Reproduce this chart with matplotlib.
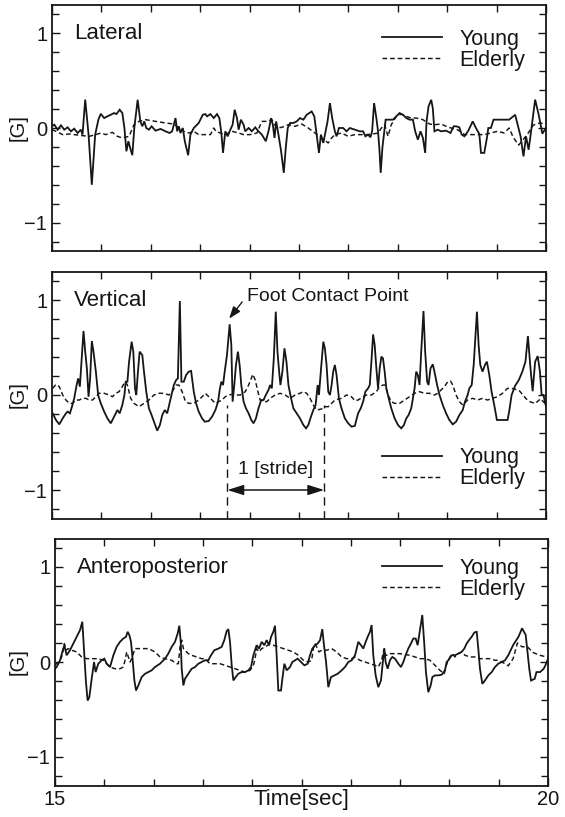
import numpy as np
import matplotlib
matplotlib.use("Agg")
import matplotlib.pyplot as plt

# ---------------- data (time [sec], acceleration [G]) ----------------
lat_young = [(15.000,0.02),(15.024,0.035),(15.057,-0.018),(15.091,0.028),(15.124,-0.018),(15.158,0.007),
    (15.192,-0.035),(15.225,-0.007),(15.259,-0.053),(15.292,-0.018),(15.309,-0.07),(15.336,0.30),(15.370,-0.07),
    (15.403,-0.60),(15.437,-0.07),(15.470,0.09),(15.494,0.15),(15.528,0.105),(15.561,0.123),(15.595,0.14),
    (15.628,0.158),(15.652,0.147),(15.685,0.193),(15.712,0.158),(15.733,0.0),(15.753,-0.246),(15.773,-0.14),
    (15.796,-0.228),(15.813,-0.288),(15.833,0.0),(15.867,0.298),(15.894,0.07),(15.914,0.018),(15.934,0.07),
    (15.954,0.0),(15.981,-0.018),(16.008,0.018),(16.048,-0.028),(16.099,-0.01),(16.149,-0.035),(16.190,-0.053),
    (16.216,-0.035),(16.250,0.105),(16.267,-0.035),(16.284,0.018),(16.300,-0.053),(16.324,0.0),(16.344,-0.14),
    (16.378,-0.288),(16.401,-0.07),(16.435,0.0),(16.485,0.053),(16.526,0.14),(16.552,0.147),(16.570,0.123),
    (16.603,0.147),(16.637,0.105),(16.670,0.147),(16.694,0.105),(16.714,-0.053),(16.731,-0.263),(16.754,-0.035),
    (16.778,-0.088),(16.805,-0.018),(16.828,0.035),(16.849,0.193),(16.872,0.105),(16.889,-0.018),(16.912,0.088),
    (16.939,0.035),(16.956,-0.035),(16.990,0.0),(17.023,-0.035),(17.057,0.007),(17.090,-0.035),(17.124,-0.07),
    (17.164,-0.14),(17.191,-0.035),(17.218,0.105),(17.235,0.035),(17.252,-0.105),(17.269,0.07),(17.292,-0.07),
    (17.319,-0.246),(17.346,-0.474),(17.366,-0.211),(17.386,0.0),(17.410,0.053),(17.443,0.053),(17.477,0.07),
    (17.510,0.105),(17.544,0.088),(17.578,0.14),(17.628,0.175),(17.655,0.123),(17.679,-0.07),(17.702,-0.263),
    (17.722,-0.07),(17.746,-0.158),(17.769,-0.035),(17.789,0.07),(17.813,0.263),(17.836,0.105),(17.863,-0.035),
    (17.880,-0.088),(17.904,0.0),(17.947,0.0),(17.981,-0.035),(18.015,0.0),(18.065,-0.018),(18.115,-0.035),
    (18.149,-0.035),(18.172,-0.088),(18.199,-0.07),(18.223,-0.098),(18.240,-0.035),(18.260,0.263),(18.283,0.105),
    (18.300,-0.035),(18.313,-0.211),(18.327,-0.474),(18.344,-0.211),(18.360,-0.07),(18.377,0.088),(18.418,0.088),
    (18.451,0.088),(18.485,0.123),(18.518,0.158),(18.552,0.14),(18.586,0.105),(18.619,0.088),(18.653,0.088),
    (18.676,-0.035),(18.703,-0.123),(18.730,-0.035),(18.754,-0.105),(18.777,-0.263),(18.791,0.07),(18.811,0.228),
    (18.838,0.298),(18.854,0.211),(18.871,-0.035),(18.905,-0.018),(18.938,-0.035),(18.989,-0.028),(19.033,-0.053),
    (19.066,0.018),(19.090,0.018),(19.123,0.007),(19.147,-0.07),(19.174,-0.088),(19.214,-0.028),(19.258,0.07),
    (19.291,0.0),(19.325,-0.063),(19.342,-0.263),(19.375,-0.263),(19.402,-0.105),(19.416,0.0),(19.442,0.0),
    (19.469,0.088),(19.627,0.088),(19.688,0.14),(19.743,-0.09),(19.772,-0.30),(19.798,-0.09),(19.824,-0.23),
    (19.846,-0.06),(19.890,0.30),(19.926,0.14),(19.963,-0.06),(20.000,0.0)]

lat_elderly = [(15.000,-0.018),(15.040,-0.035),(15.108,-0.07),(15.175,-0.063),(15.276,-0.077),(15.376,-0.088),
    (15.444,-0.07),(15.494,-0.053),(15.544,-0.07),(15.612,-0.046),(15.662,-0.088),(15.712,-0.105),(15.780,-0.088),
    (15.830,0.035),(15.880,0.07),(15.948,0.088),(16.048,0.07),(16.149,0.053),(16.233,0.042),(16.284,0.0),
    (16.334,-0.035),(16.384,-0.053),(16.435,-0.035),(16.485,-0.07),(16.552,-0.07),(16.603,-0.07),(16.637,0.0),
    (16.660,-0.035),(16.704,-0.053),(16.754,-0.07),(16.822,-0.035),(16.889,-0.053),(16.939,-0.07),(17.006,-0.07),
    (17.074,-0.053),(17.124,0.07),(17.174,0.07),(17.225,0.088),(17.275,0.0),(17.326,0.007),(17.393,0.035),
    (17.460,0.018),(17.527,0.042),(17.594,0.0),(17.662,-0.053),(17.729,-0.105),(17.796,-0.158),(17.830,-0.105),
    (17.863,-0.07),(17.930,-0.053),(17.998,-0.088),(18.065,-0.07),(18.115,-0.07),(18.199,-0.07),(18.250,-0.063),
    (18.300,-0.053),(18.334,0.0),(18.367,0.035),(18.401,-0.088),(18.434,0.035),(18.485,0.123),(18.535,0.147),
    (18.586,0.123),(18.636,0.105),(18.686,0.105),(18.754,0.088),(18.821,0.042),(18.871,0.035),(18.938,0.042),
    (18.989,0.018),(19.039,0.0),(19.106,-0.018),(19.174,-0.07),(19.241,-0.07),(19.308,-0.07),(19.375,-0.07),
    (19.442,-0.053),(19.509,-0.035),(19.577,-0.053),(19.627,0.0),(19.669,-0.1),(19.724,-0.18),(19.816,-0.06),
    (19.871,0.03),(19.926,0.05),(20.0,0.05)]

vert_young = [(15.007,-0.193),(15.040,-0.263),(15.074,-0.309),(15.108,-0.246),(15.141,-0.193),(15.158,-0.175),
    (15.181,-0.193),(15.202,-0.123),(15.225,-0.035),(15.249,0.105),(15.265,0.175),(15.282,0.088),(15.299,0.351),
    (15.319,0.674),(15.336,0.456),(15.353,0.281),(15.370,-0.018),(15.386,0.175),(15.403,0.568),(15.420,0.456),
    (15.444,0.246),(15.467,0.0),(15.494,-0.088),(15.528,-0.175),(15.561,-0.246),(15.595,-0.298),(15.628,-0.228),
    (15.662,-0.158),(15.685,-0.193),(15.712,-0.105),(15.733,0.0),(15.746,0.14),(15.763,0.14),(15.780,0.351),
    (15.806,0.561),(15.823,0.456),(15.840,0.07),(15.853,0.0),(15.870,0.246),(15.887,0.456),(15.914,0.421),
    (15.931,0.246),(15.954,0.035),(15.981,-0.14),(16.008,-0.211),(16.032,-0.281),(16.065,-0.375),(16.092,-0.316),
    (16.116,-0.211),(16.142,-0.158),(16.166,-0.193),(16.190,-0.088),(16.210,0.0),(16.233,0.105),(16.257,0.158),
    (16.274,0.175),(16.294,0.989),(16.310,0.14),(16.334,0.14),(16.358,0.211),(16.384,0.246),(16.408,0.253),
    (16.435,0.035),(16.458,-0.088),(16.485,-0.175),(16.519,-0.246),(16.546,-0.281),(16.586,-0.274),(16.620,-0.228),
    (16.654,-0.158),(16.681,-0.07),(16.697,0.053),(16.714,0.14),(16.731,0.105),(16.748,0.246),(16.771,0.421),
    (16.798,0.744),(16.815,0.526),(16.828,-0.07),(16.845,0.105),(16.862,0.316),(16.882,0.456),(16.899,0.316),
    (16.916,0.105),(16.939,-0.07),(16.963,-0.14),(16.990,-0.193),(17.017,-0.263),(17.040,-0.298),(17.064,-0.246),
    (17.090,-0.14),(17.117,-0.053),(17.141,-0.053),(17.164,0.0),(17.191,0.053),(17.208,0.105),(17.225,0.07),
    (17.245,0.386),(17.265,0.877),(17.282,0.456),(17.299,0.246),(17.312,0.105),(17.332,0.246),(17.353,0.491),
    (17.373,0.351),(17.393,0.105),(17.420,-0.035),(17.443,-0.14),(17.477,-0.193),(17.510,-0.246),(17.544,-0.316),
    (17.571,-0.351),(17.594,-0.316),(17.621,-0.228),(17.645,-0.158),(17.668,-0.105),(17.689,0.105),(17.702,0.0),
    (17.722,0.263),(17.746,0.561),(17.762,0.491),(17.779,0.316),(17.796,0.035),(17.813,0.0),(17.830,0.105),
    (17.846,0.246),(17.863,0.316),(17.880,0.211),(17.904,-0.035),(17.930,-0.14),(17.964,-0.246),(17.998,-0.298),
    (18.031,-0.333),(18.065,-0.325),(18.098,-0.193),(18.125,-0.14),(18.149,-0.07),(18.172,0.035),(18.199,0.07),
    (18.216,0.105),(18.233,0.351),(18.250,0.638),(18.266,0.526),(18.283,0.281),(18.300,0.07),(18.317,0.281),
    (18.334,0.404),(18.350,0.386),(18.367,0.246),(18.384,0.07),(18.408,-0.035),(18.434,-0.14),(18.468,-0.246),
    (18.502,-0.316),(18.535,-0.351),(18.562,-0.316),(18.586,-0.246),(18.609,-0.211),(18.636,-0.14),(18.653,-0.035),
    (18.670,0.07),(18.686,0.246),(18.703,0.211),(18.720,0.105),(18.737,0.456),(18.760,0.884),(18.777,0.456),
    (18.797,0.14),(18.811,0.105),(18.831,0.281),(18.854,0.323),(18.871,0.246),(18.898,0.105),(18.922,0.0),
    (18.955,-0.105),(18.989,-0.193),(19.022,-0.263),(19.056,-0.309),(19.090,-0.281),(19.123,-0.211),(19.157,-0.158),
    (19.180,-0.07),(19.207,0.0),(19.224,0.07),(19.248,0.105),(19.268,0.316),(19.285,0.596),(19.301,0.877),
    (19.318,0.526),(19.335,0.316),(19.358,0.246),(19.382,0.316),(19.402,0.351),(19.426,0.211),(19.449,0.035),
    (19.476,-0.105),(19.503,-0.263),(19.543,-0.263),(19.577,-0.263),(19.611,-0.263),(19.627,-0.175),(19.652,0.0),
    (19.689,0.10),(19.726,0.16),(19.762,0.25),(19.792,0.35),(19.817,0.62),(19.843,0.28),(19.865,0.04),(19.890,0.35),
    (19.916,0.41),(19.938,0.25),(19.956,0.0),(19.974,0.0),(20.0,-0.12)]

vert_elderly = [(15.007,0.07),(15.040,0.112),(15.074,0.088),(15.108,0.0),(15.141,-0.053),(15.175,-0.088),
    (15.208,-0.088),(15.242,-0.053),(15.276,-0.053),(15.309,-0.035),(15.343,-0.035),(15.376,-0.053),(15.410,-0.053),
    (15.444,-0.018),(15.477,0.018),(15.528,0.018),(15.578,0.0),(15.612,-0.018),(15.645,0.018),(15.679,0.035),
    (15.712,0.088),(15.739,0.14),(15.763,0.105),(15.796,-0.035),(15.830,-0.088),(15.880,-0.123),(15.931,-0.088),
    (15.981,-0.053),(16.032,0.0),(16.082,0.018),(16.132,0.018),(16.183,0.0),(16.216,0.035),(16.257,0.105),
    (16.284,0.105),(16.317,0.035),(16.351,-0.07),(16.384,-0.088),(16.435,-0.088),(16.485,-0.053),(16.519,-0.018),
    (16.552,0.018),(16.603,-0.035),(16.654,-0.088),(16.687,-0.07),(16.721,-0.053),(16.754,-0.018),(16.788,0.0),
    (16.822,0.007),(16.855,0.0),(16.906,0.0),(16.956,0.035),(16.990,0.105),(17.017,0.175),(17.033,0.218),
    (17.057,0.158),(17.084,0.035),(17.107,-0.053),(17.141,-0.07),(17.174,-0.07),(17.208,-0.035),(17.258,0.0),
    (17.309,0.018),(17.359,0.0),(17.410,-0.035),(17.460,0.0),(17.510,0.018),(17.544,0.035),(17.578,0.018),
    (17.611,-0.035),(17.645,-0.105),(17.679,-0.158),(17.729,-0.147),(17.762,-0.123),(17.796,-0.123),(17.830,-0.088),
    (17.863,-0.053),(17.930,-0.035),(17.981,0.0),(18.031,-0.018),(18.065,-0.06),(18.098,-0.053),(18.149,-0.018),
    (18.182,0.0),(18.233,0.0),(18.283,0.035),(18.317,0.088),(18.350,0.105),(18.374,0.105),(18.401,0.0),
    (18.434,-0.07),(18.468,-0.088),(18.518,-0.088),(18.569,-0.053),(18.619,-0.018),(18.670,0.018),(18.720,0.035),
    (18.770,0.018),(18.821,0.018),(18.871,0.0),(18.905,0.018),(18.938,0.053),(18.972,0.088),(19.006,0.14),
    (19.033,0.147),(19.056,0.105),(19.090,0.0),(19.123,-0.07),(19.157,-0.105),(19.207,-0.053),(19.258,-0.035),
    (19.308,-0.053),(19.358,-0.035),(19.408,-0.053),(19.459,-0.035),(19.509,-0.018),(19.560,0.018),(19.610,0.07),
    (19.652,0.07),(19.726,0.05),(19.799,-0.04),(19.836,-0.07),(19.890,-0.09),(19.945,-0.04),(20.0,-0.1)]

ap_young = [(15.000,-0.07),(15.017,-0.053),(15.051,0.018),(15.074,0.106),(15.095,0.177),(15.118,0.071),
    (15.152,0.124),(15.186,0.194),(15.220,0.265),(15.254,0.336),(15.277,0.424),(15.298,0.053),(15.314,-0.212),
    (15.331,-0.406),(15.348,-0.371),(15.372,-0.177),(15.396,0.0),(15.412,-0.106),(15.439,-0.018),(15.473,0.018),
    (15.500,0.035),(15.524,-0.018),(15.558,-0.053),(15.592,0.071),(15.625,0.159),(15.659,0.212),(15.693,0.247),
    (15.720,0.265),(15.737,0.318),(15.754,0.283),(15.771,0.212),(15.788,0.018),(15.805,-0.194),(15.822,-0.300),
    (15.845,-0.247),(15.879,-0.159),(15.913,-0.124),(15.947,-0.106),(15.980,-0.088),(16.014,-0.053),(16.065,-0.018),
    (16.116,0.035),(16.149,0.088),(16.183,0.159),(16.217,0.212),(16.244,0.300),(16.261,0.382),(16.275,0.212),
    (16.285,-0.071),(16.302,-0.247),(16.318,-0.177),(16.352,-0.124),(16.386,-0.071),(16.420,-0.053),(16.454,-0.018),
    (16.487,0.0),(16.521,0.018),(16.555,0.018),(16.582,0.071),(16.616,0.124),(16.657,0.141),(16.690,0.159),
    (16.717,0.230),(16.741,0.325),(16.758,0.346),(16.775,0.212),(16.792,-0.035),(16.809,-0.194),(16.832,-0.159),
    (16.859,-0.124),(16.893,-0.106),(16.927,-0.106),(16.961,-0.088),(16.988,-0.053),(17.012,0.071),(17.029,0.124),
    (17.045,0.177),(17.069,0.141),(17.096,0.212),(17.123,0.177),(17.147,0.230),(17.171,0.177),(17.191,0.265),
    (17.214,0.318),(17.231,0.382),(17.248,0.071),(17.265,-0.300),(17.292,-0.300),(17.306,-0.177),(17.326,-0.018),
    (17.350,-0.088),(17.383,-0.053),(17.407,0.0),(17.434,0.018),(17.461,0.035),(17.495,0.0),(17.529,-0.035),
    (17.563,-0.018),(17.586,0.071),(17.610,0.141),(17.637,0.177),(17.664,0.194),(17.688,0.230),(17.711,0.346),
    (17.728,0.177),(17.749,0.0),(17.772,-0.265),(17.799,-0.159),(17.833,-0.141),(17.867,-0.124),(17.907,-0.088),
    (17.941,-0.053),(17.975,0.0),(18.009,0.018),(18.043,0.071),(18.076,0.212),(18.103,0.177),(18.127,0.141),
    (18.144,0.194),(18.171,0.265),(18.195,0.318),(18.211,0.389),(18.228,0.071),(18.252,-0.141),(18.279,-0.265),
    (18.306,-0.194),(18.323,-0.018),(18.340,0.141),(18.353,0.0),(18.374,-0.071),(18.397,0.018),(18.421,0.053),
    (18.448,0.035),(18.482,-0.018),(18.509,-0.053),(18.533,0.0),(18.556,0.071),(18.583,0.141),(18.610,0.194),
    (18.634,0.247),(18.658,0.247),(18.678,0.177),(18.702,0.336),(18.725,0.495),(18.746,0.177),(18.762,-0.106),
    (18.786,-0.318),(18.810,-0.247),(18.827,-0.159),(18.854,-0.141),(18.888,-0.141),(18.921,-0.134),(18.955,-0.088),
    (18.972,0.0),(18.989,0.018),(19.023,0.071),(19.057,0.071),(19.090,0.088),(19.124,0.106),(19.151,0.141),
    (19.175,0.194),(19.199,0.230),(19.226,0.265),(19.253,0.311),(19.277,0.318),(19.293,0.141),(19.310,-0.071),
    (19.334,-0.230),(19.361,-0.194),(19.395,-0.141),(19.429,-0.106),(19.462,-0.053),(19.496,-0.018),(19.530,0.0),
    (19.564,0.018),(19.597,0.071),(19.646,0.177),(19.701,0.266),(19.737,0.355),(19.774,0.284),(19.792,0.106),
    (19.810,-0.071),(19.828,-0.195),(19.865,-0.177),(19.883,-0.106),(19.920,-0.106),(19.956,-0.071),(19.974,-0.035),
    (20.0,0.035)]

ap_elderly = [(15.000,-0.03),(15.017,-0.018),(15.051,0.018),(15.074,0.071),(15.095,0.194),(15.112,0.124),
    (15.135,0.141),(15.169,0.124),(15.220,0.106),(15.270,0.053),(15.321,0.035),(15.372,0.035),(15.439,0.035),
    (15.490,0.018),(15.524,-0.018),(15.558,-0.053),(15.609,-0.071),(15.659,-0.071),(15.693,-0.053),(15.710,0.018),
    (15.727,0.106),(15.744,0.053),(15.761,0.0),(15.778,0.035),(15.811,0.141),(15.879,0.141),(15.947,0.141),
    (16.014,0.106),(16.065,0.053),(16.116,0.035),(16.183,0.018),(16.234,-0.018),(16.251,-0.018),(16.268,0.159),
    (16.285,0.230),(16.302,0.141),(16.318,0.124),(16.352,0.088),(16.386,0.071),(16.437,0.053),(16.487,0.035),
    (16.521,0.035),(16.572,-0.018),(16.623,-0.018),(16.674,-0.018),(16.724,-0.035),(16.775,-0.053),(16.826,-0.071),
    (16.876,-0.088),(16.927,-0.106),(16.978,-0.088),(17.012,-0.035),(17.029,0.035),(17.045,0.141),(17.069,0.106),
    (17.096,0.141),(17.130,0.159),(17.171,0.184),(17.214,0.177),(17.265,0.159),(17.316,0.141),(17.367,0.124),
    (17.417,0.106),(17.468,0.071),(17.519,0.018),(17.569,0.0),(17.603,0.018),(17.620,0.141),(17.637,0.194),
    (17.654,0.159),(17.678,0.106),(17.705,0.124),(17.755,0.124),(17.806,0.141),(17.857,0.106),(17.907,0.053),
    (17.958,0.035),(18.009,0.035),(18.043,0.05),(18.093,0.018),(18.144,0.0),(18.195,-0.018),(18.245,-0.035),
    (18.279,-0.053),(18.313,0.018),(18.330,0.106),(18.340,0.141),(18.353,0.071),(18.374,0.071),(18.397,0.088),
    (18.448,0.088),(18.499,0.088),(18.550,0.078),(18.600,0.071),(18.651,0.053),(18.702,0.035),(18.752,0.035),
    (18.803,0.018),(18.837,-0.018),(18.871,-0.053),(18.904,-0.088),(18.928,-0.106),(18.948,-0.124),(18.962,-0.053),
    (18.982,0.0),(19.006,0.053),(19.030,0.088),(19.057,0.053),(19.090,0.088),(19.124,0.106),(19.158,0.071),
    (19.209,0.053),(19.259,0.053),(19.310,0.035),(19.361,0.035),(19.412,0.035),(19.462,0.018),(19.496,0.018),
    (19.530,0.0),(19.564,-0.018),(19.597,-0.04),(19.646,0.035),(19.690,0.20),(19.737,0.16),(19.792,0.16),
    (19.847,0.10),(19.920,0.07),(20.0,0.05)]

panel_titles = ["Lateral", "Vertical", "Anteroposterior"]
series_names = ["Young", "Elderly"]
stride_times = [16.775, 17.755]          # foot contact points bounding one stride
foot_contact = (16.798, 0.744)            # annotated peak
x_tick_labels = {15: "15", 20: "20"}

# ---------------- figure ----------------
plt.rcParams['font.family'] = ['Liberation Sans', 'DejaVu Sans']
INK = '#161616'
fig = plt.figure(figsize=(5.65, 8.17), dpi=100)

W, H = 565.0, 817.0
boxes = [(52, 5, 546, 251), (52, 271.5, 546, 518.5), (55, 538.5, 548, 785.5)]  # px: left, top, right, bottom
legend_y = [0.817, 0.204, 0.836]
data = [(lat_young, lat_elderly), (vert_young, vert_elderly), (ap_young, ap_elderly)]

axes = []
for i, ((l, t, r, b), (yg, el)) in enumerate(zip(boxes, data)):
    ax = fig.add_axes([l / W, 1 - b / H, (r - l) / W, (b - t) / H])
    axes.append(ax)
    ty, vy = zip(*yg)
    te, ve = zip(*el)
    ly, = ax.plot(ty, vy, color=INK, lw=1.3, solid_joinstyle='miter', label=series_names[0])
    le, = ax.plot(te, ve, color=INK, lw=1.05, linestyle=(0, (3.2, 2.0)), label=series_names[1])
    ax.set_xlim(15, 20)
    ax.set_ylim(-1.3, 1.3)
    ax.set_yticks([-1, 0, 1])
    ax.set_yticks(np.round(np.arange(-1.2, 1.21, 0.2), 1), minor=True)
    ax.set_xticks(list(x_tick_labels.keys()))
    ax.set_xticks(np.arange(15, 20.01, 0.5), minor=True)
    ax.tick_params(which='both', direction='in', top=True, right=True, width=1.0, color=INK,
                   labelsize=14.5, labelcolor=INK)
    ax.tick_params(which='major', length=6)
    ax.tick_params(which='minor', length=5)
    for s in ax.spines.values():
        s.set_linewidth(1.3)
        s.set_color(INK)
    ax.set_ylabel("[G]", fontsize=14.5, color=INK)
    ax.yaxis.set_label_coords((28 - l) / (r - l), 0.5)
    if i < 2:
        ax.tick_params(labelbottom=False)
    else:
        ax.set_xticklabels(list(x_tick_labels.values()))
        ax.set_xlabel("Time[sec]", fontsize=16, color=INK)
        ax.xaxis.set_label_coords(0.5, -0.016)
    ax.text(15.22, 1.0, panel_titles[i], fontsize=16, color=INK, ha='left', va='center')
    ax.legend(handles=[ly, le], loc='center left', bbox_to_anchor=((382 - l) / (r - l), legend_y[i]),
              frameon=False, fontsize=15.5, handlelength=2.8, handletextpad=0.8, labelspacing=0.0,
              borderpad=0, borderaxespad=0, labelcolor=INK)

# Vertical panel annotations
ax = axes[1]
ax.vlines(stride_times, -1.3, -0.1, colors=INK, lw=1.0, linestyles=(0, (6, 4)))
ax.annotate('', xy=(stride_times[1], -1.0), xytext=(stride_times[0], -1.0),
            arrowprops=dict(arrowstyle='<|-|>,head_length=0.7,head_width=0.22', color=INK, lw=1.1,
                            shrinkA=0, shrinkB=0, mutation_scale=14))
ax.text(sum(stride_times) / 2, -0.78, "1 [stride]", fontsize=14, color=INK, ha='center', va='center')
ax.annotate("Foot Contact Point", xy=(foot_contact[0] - 0.005, foot_contact[1] + 0.06),
            xytext=(16.97, 1.04), fontsize=14, color=INK, ha='left', va='center',
            arrowprops=dict(arrowstyle='-|>,head_length=0.6,head_width=0.22', color=INK, lw=1.0,
                            shrinkA=2, shrinkB=0, mutation_scale=12,
                            relpos=(0.0, 0.5)))

fig.savefig("out.png", dpi=100)
